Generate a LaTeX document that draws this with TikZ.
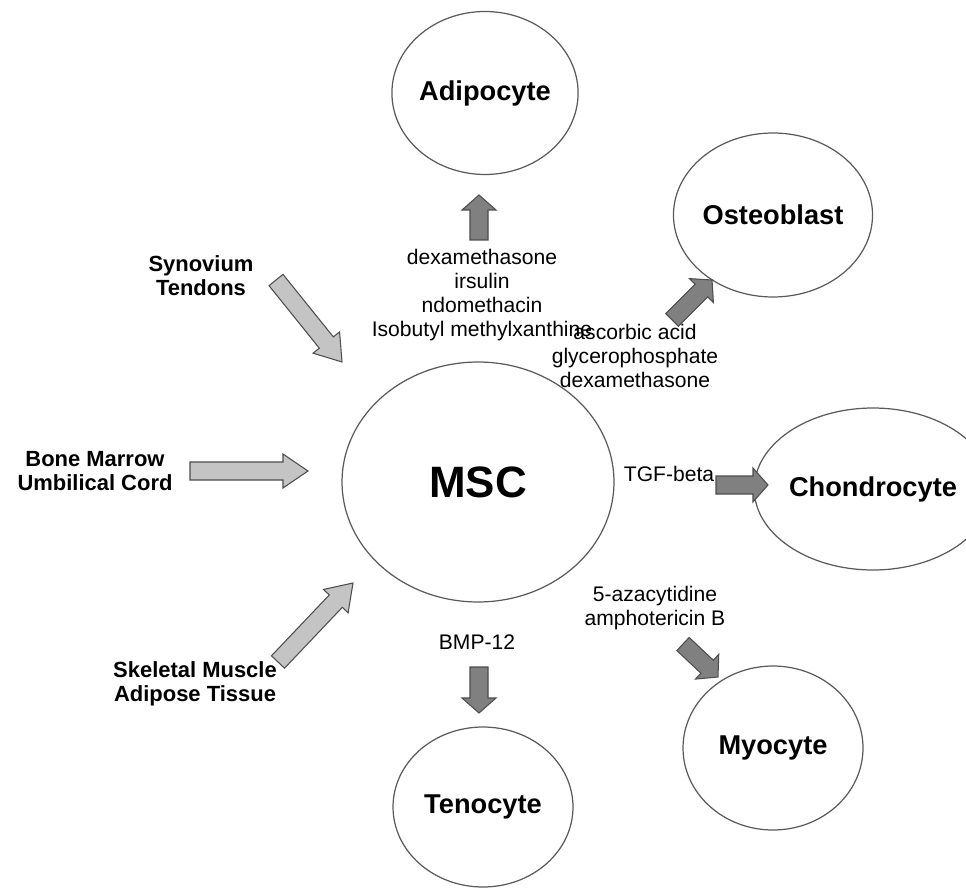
\documentclass[tikz,border=0pt]{standalone}
\usepackage{fontspec}
\setmainfont{Liberation Sans}
\usepackage{xcolor}
\usepackage{tikz}
\usetikzlibrary{calc,shapes.geometric}

\definecolor{lightfill}{HTML}{C4C4C4}
\definecolor{darkfill}{HTML}{808080}
\definecolor{edgegray}{HTML}{4D4D4D}
\definecolor{ringgray}{HTML}{5A5A5A}

% block arrow: style, tail, tip, half shaft, half head, head length
\newcommand{\blockarrow}[6]{%
    \coordinate (neck) at ($(#3)!#6!(#2)$);
    \draw[#1] ($(#2)!#4!90:(#3)$) -- ($(neck)!#4!90:(#3)$) -- ($(neck)!#5!90:(#3)$) -- (#3)
        -- ($(neck)!#5!-90:(#3)$) -- ($(neck)!#4!-90:(#3)$) -- ($(#2)!#4!-90:(#3)$) -- cycle;
}
\newcommand{\inarrow}[2]{\blockarrow{inarrowstyle}{#1}{#2}{0.18cm}{0.34cm}{0.5cm}}
\newcommand{\outarrow}[2]{\blockarrow{outarrowstyle}{#1}{#2}{0.18cm}{0.34cm}{0.3cm}}

\begin{document}
\begin{tikzpicture}[x=0.02cm, y=-0.02cm,
    cell/.style={ellipse, draw=ringgray, line width=0.7pt, inner sep=0pt,
        font=\bfseries\fontsize{15.5}{18}\selectfont},
    inlabel/.style={align=center, font=\bfseries\fontsize{12.5}{13.5}\selectfont},
    medlabel/.style={align=center, font=\fontsize{12}{13.6}\selectfont},
    inarrowstyle/.style={fill=lightfill, draw=edgegray, line width=0.6pt},
    outarrowstyle/.style={fill=darkfill, draw=edgegray, line width=0.6pt}]
    \useasboundingbox (0,0) rectangle (966,888);

    % Cells
    \node[cell, minimum width=5.44cm, minimum height=4.8cm, font=\bfseries\fontsize{25}{30}\selectfont] (msc) at (478,482) {MSC};
    \node[cell, minimum width=3.6cm, minimum height=3.26cm] (adipo) at (485,93) {Adipocyte};
    \node[cell, minimum width=3.6cm, minimum height=3.28cm] (osteo) at (773,215) {Osteoblast};
    \node[cell, minimum width=3.64cm, minimum height=3.24cm] (chondro) at (873,489) {Chondrocyte};
    \node[cell, minimum width=3.6cm, minimum height=3.28cm] (myo) at (773,748) {Myocyte};
    \node[cell, minimum width=3.6cm, minimum height=3.2cm] (teno) at (483,807) {Tenocyte};

    % Sources
    \node[inlabel] (syn) at (201,276) {Synovium\\Tendons};
    \node[inlabel] (bm) at (95,471) {Bone Marrow\\Umbilical Cord};
    \node[inlabel] (skm) at (195,684) {Skeletal Muscle\\Adipose Tissue};

    % Inducers
    \node[medlabel] (adipomed) at (482,295) {dexamethasone\\irsulin\\ndomethacin\\Isobutyl methylxanthine};
    \node[medlabel] (osteomed) at (635,356) {ascorbic acid\\glycerophosphate\\dexamethasone};
    \node[medlabel] (chondromed) at (669,474) {TGF-beta};
    \node[medlabel] (myomed) at (655,608) {5-azacytidine\\amphotericin B};
    \node[medlabel] (tenomed) at (477,642) {BMP-12};

    % Arrow ends
    \coordinate (synT) at (276,280);   \coordinate (synH) at (342,362);
    \coordinate (bmT) at (190,471);    \coordinate (bmH) at (308,471);
    \coordinate (skmT) at (278,662);   \coordinate (skmH) at (353,583);
    \coordinate (adipoT) at (479,240); \coordinate (adipoH) at (479,195);
    \coordinate (osteoT) at (672,320); \coordinate (osteoH) at (712,280);
    \coordinate (chondroT) at (716,485); \coordinate (chondroH) at (768,485);
    \coordinate (myoT) at (683,644);   \coordinate (myoH) at (718,677);
    \coordinate (tenoT) at (479,667);  \coordinate (tenoH) at (479,713);

    % Arrows into MSC
    \inarrow{synT}{synH}
    \inarrow{bmT}{bmH}
    \inarrow{skmT}{skmH}

    % Arrows out of MSC
    \outarrow{adipoT}{adipoH}
    \outarrow{osteoT}{osteoH}
    \outarrow{chondroT}{chondroH}
    \outarrow{myoT}{myoH}
    \outarrow{tenoT}{tenoH}
\end{tikzpicture}
\end{document}
